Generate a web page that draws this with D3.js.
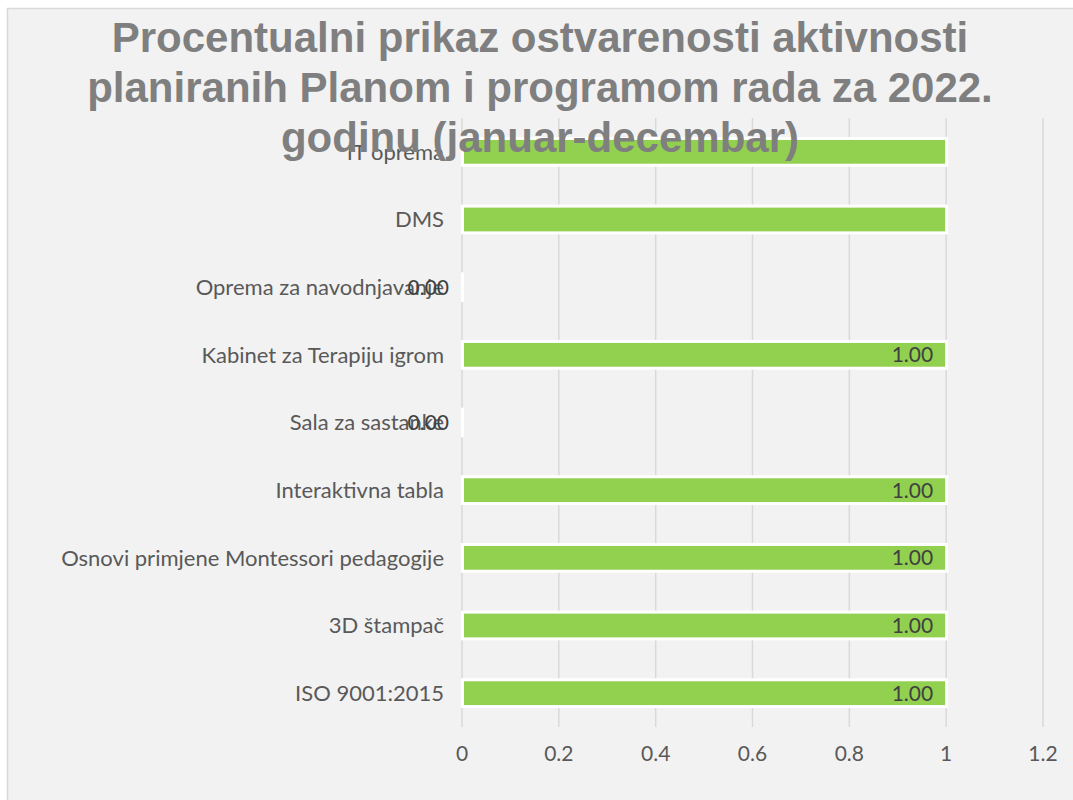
<!DOCTYPE html>
<html>
<head>
<meta charset="utf-8">
<script src="https://cdn.jsdelivr.net/npm/d3@7"></script>
<style>
  body { margin: 0; background: #fff; }
</style>
</head>
<body>
<div id="chart"></div>
<script>
const categories = [
  'IT oprema', 'DMS', 'Oprema za navodnjavanje', 'Kabinet za Terapiju igrom',
  'Sala za sastanke', 'Interaktivna tabla', 'Osnovi primjene Montessori pedagogije',
  '3D štampač', 'ISO 9001:2015'
];
const values = [1, 1, 0, 1, 0, 1, 1, 1, 1];
// labels that Excel shows (first two bars have none)
const showLabel = [false, false, true, true, true, true, true, true, true];
const xTicks = [0, 0.2, 0.4, 0.6, 0.8, 1, 1.2];
const titleLines = [
  'Procentualni prikaz ostvarenosti aktivnosti',
  'planiranih Planom i programom rada za 2022.',
  'godinu (januar-decembar)'
];

const W = 1073, H = 800;
const svg = d3.select('#chart').append('svg')
  .attr('width', W).attr('height', H);

svg.append('rect')
  .attr('x', 7.5).attr('y', 8.5)
  .attr('width', W + 10).attr('height', H + 10)
  .attr('fill', '#f2f2f2')
  .attr('stroke', '#d9d9d9').attr('stroke-width', 1.5);

const x = d3.scaleLinear().domain([0, 1.2]).range([462, 1043]);
const y = d3.scaleBand().domain(categories).range([118, 727]).paddingInner(0.56).paddingOuter(0.28);

// gridlines
svg.append('g').selectAll('line')
  .data(xTicks)
  .join('line')
  .attr('x1', d => x(d)).attr('x2', d => x(d))
  .attr('y1', 118).attr('y2', 727)
  .attr('stroke', '#d9d9d9').attr('stroke-width', 1.5);

// tick labels
svg.append('g').selectAll('text')
  .data(xTicks)
  .join('text')
  .attr('x', d => x(d)).attr('y', 761)
  .attr('text-anchor', 'middle')
  .attr('font-family', 'Lato, sans-serif')
  .attr('font-size', 21)
  .attr('fill', '#595959')
  .text(d => d3.format('')(d));

const rows = categories.map((c, i) => ({ c, v: values[i], show: showLabel[i] }));

// bars: white outline then green fill
const bars = svg.append('g');
bars.selectAll('rect.out')
  .data(rows)
  .join('rect')
  .attr('class', 'out')
  .attr('x', x(0) - 1)
  .attr('y', d => y(d.c))
  .attr('width', d => x(d.v) - x(0) + 3)
  .attr('height', y.bandwidth())
  .attr('fill', '#ffffff');
bars.selectAll('rect.in')
  .data(rows.filter(d => d.v > 0))
  .join('rect')
  .attr('class', 'in')
  .attr('x', x(0) + 2)
  .attr('y', d => y(d.c) + 3)
  .attr('width', d => x(d.v) - x(0) - 3)
  .attr('height', y.bandwidth() - 6)
  .attr('fill', '#92d050');

// category labels
svg.append('g').selectAll('text')
  .data(rows)
  .join('text')
  .attr('x', 444)
  .attr('y', d => y(d.c) + y.bandwidth() / 2)
  .attr('dy', '0.35em')
  .attr('text-anchor', 'end')
  .attr('font-family', 'Lato, sans-serif')
  .attr('font-size', 22)
  .attr('fill', '#595959')
  .text(d => d.c);

// value labels
svg.append('g').selectAll('text')
  .data(rows.filter(d => d.show))
  .join('text')
  .attr('x', d => x(d.v) - 13)
  .attr('y', d => y(d.c) + y.bandwidth() / 2)
  .attr('dy', '0.35em')
  .attr('text-anchor', 'end')
  .attr('font-family', 'Lato, sans-serif')
  .attr('font-size', 21)
  .attr('fill', '#404040')
  .text(d => d3.format('.2f')(d.v));

// title
svg.append('g').selectAll('text')
  .data(titleLines)
  .join('text')
  .attr('x', 540)
  .attr('y', (d, i) => 52 + i * 50)
  .attr('text-anchor', 'middle')
  .attr('font-family', '"Liberation Sans", Arial, sans-serif')
  .attr('font-weight', 'bold')
  .attr('font-size', 42)
  .attr('fill', '#7f7f7f')
  .text(d => d);
</script>
</body>
</html>
